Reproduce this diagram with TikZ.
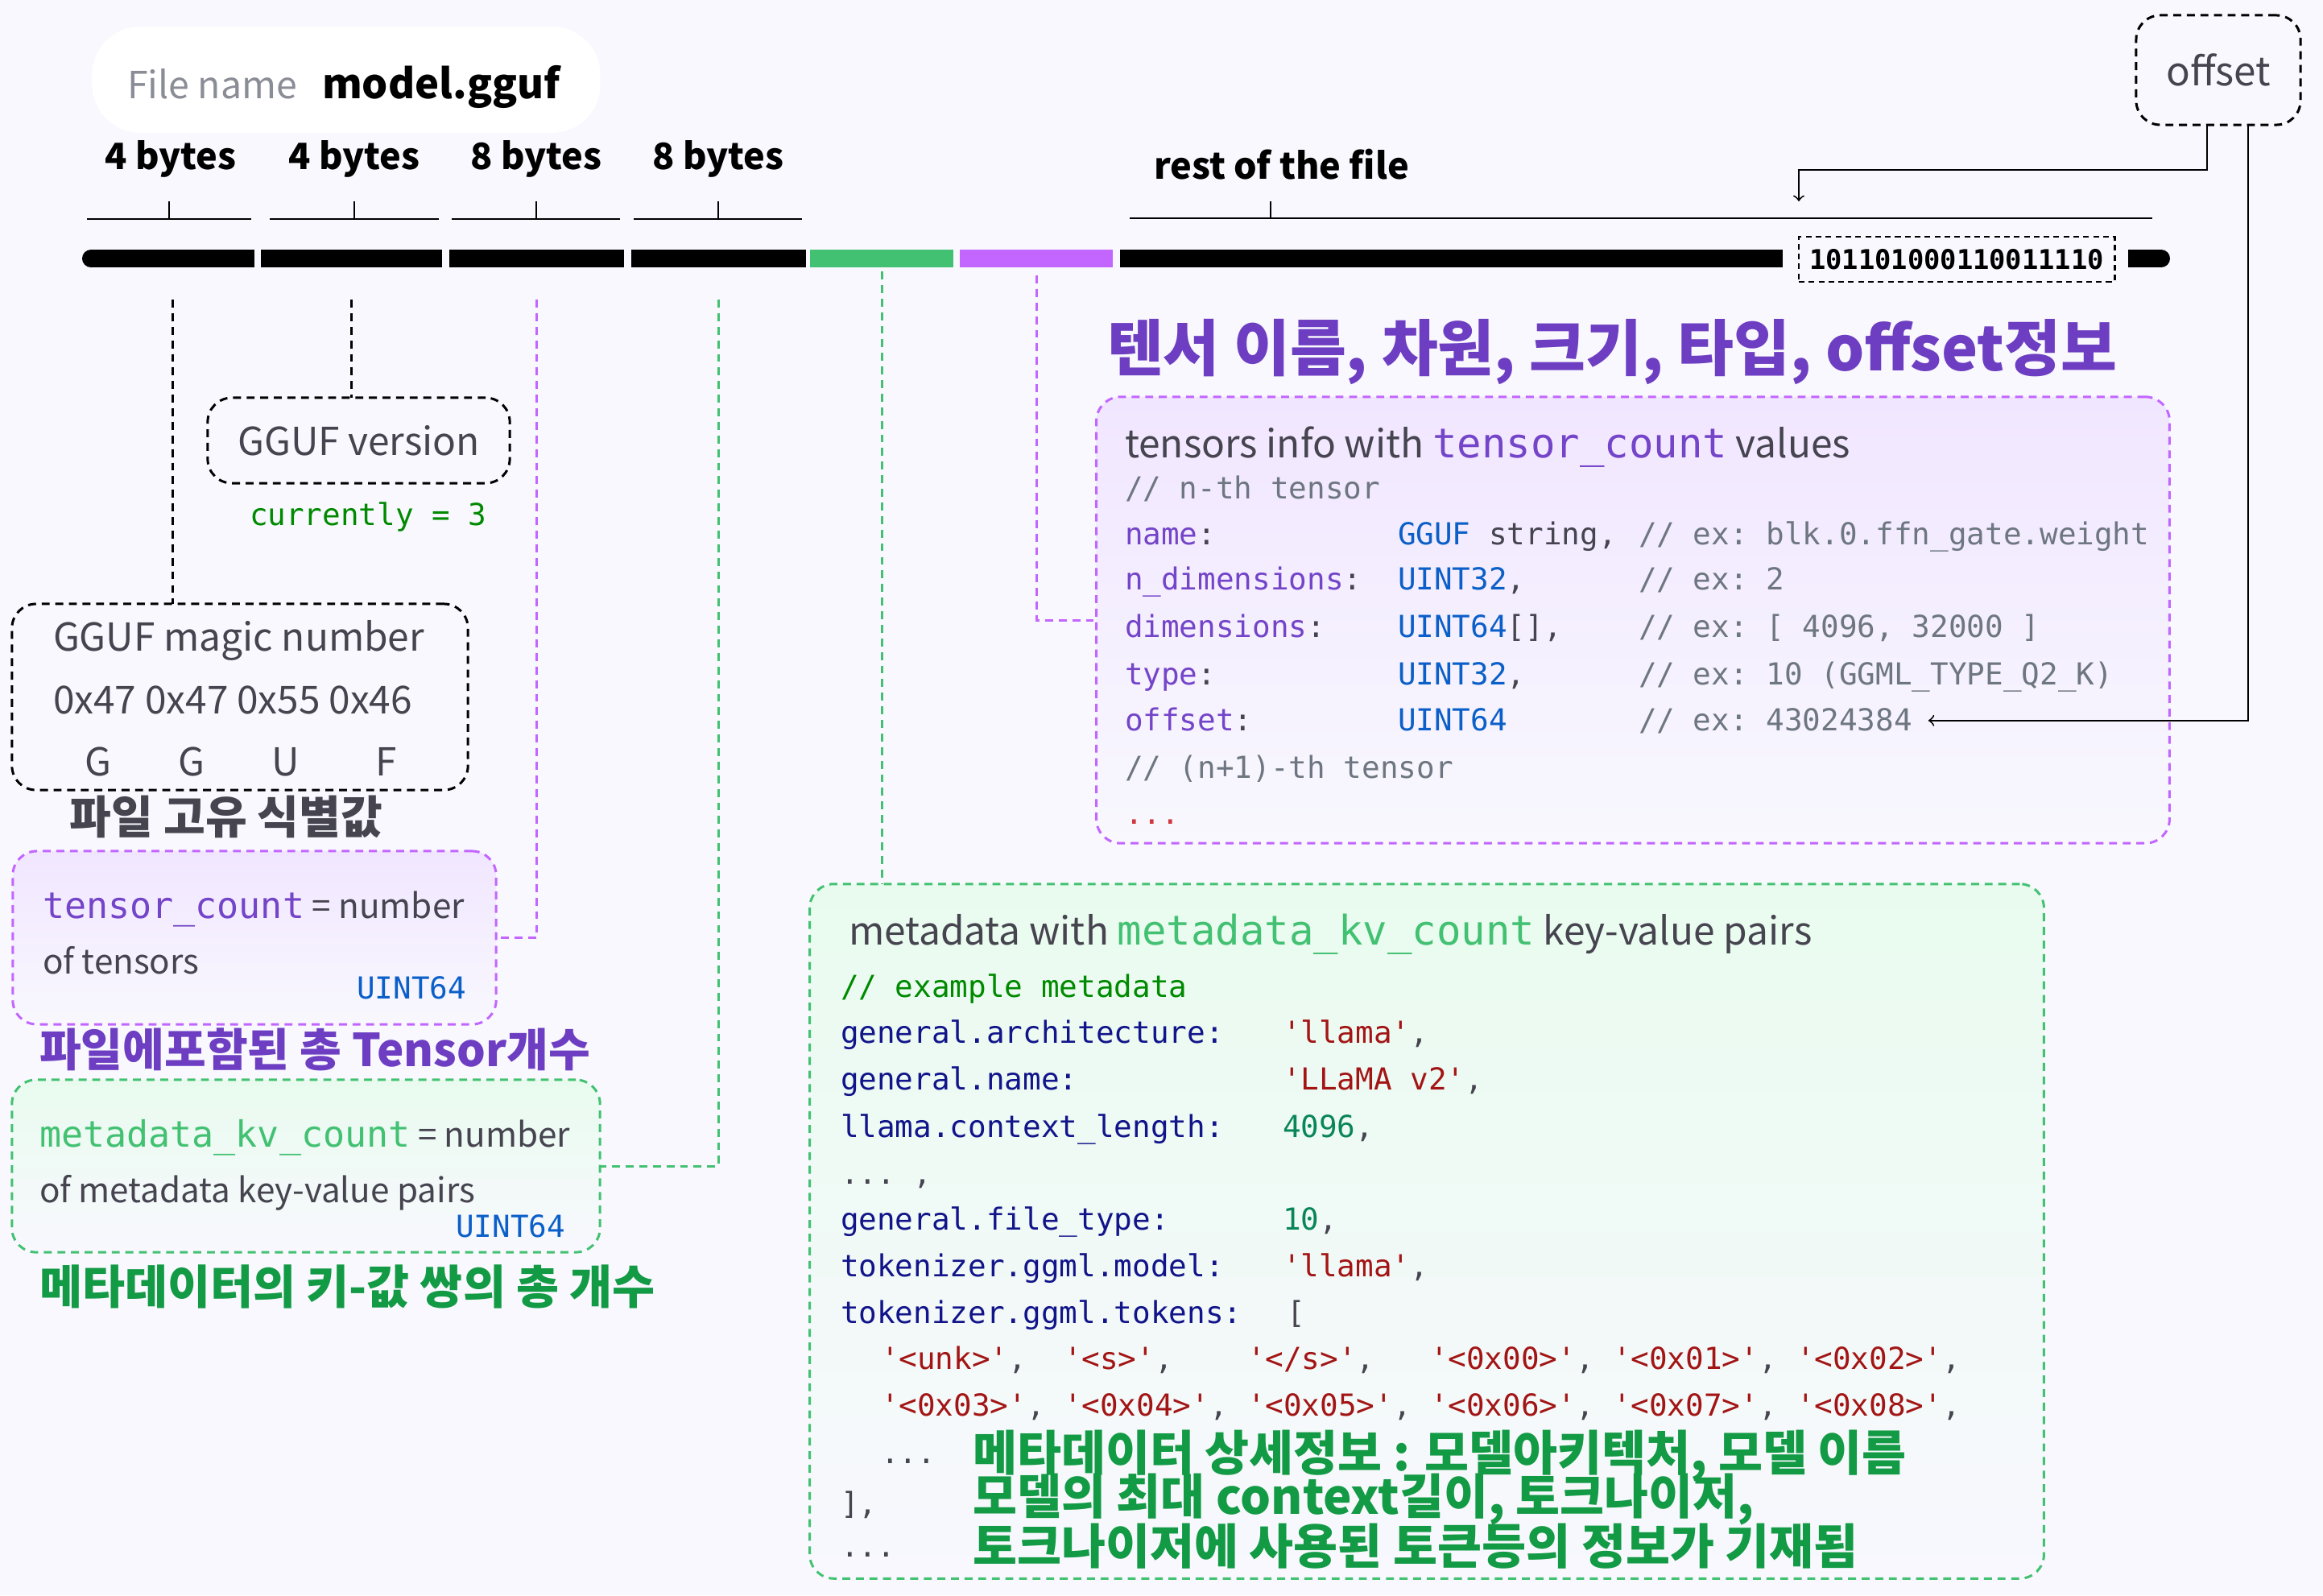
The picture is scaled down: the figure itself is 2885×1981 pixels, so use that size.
\documentclass[tikz,border=0pt]{standalone}
\usepackage{fontspec}
\setmainfont{Noto Sans CJK KR}
\setmonofont{DejaVu Sans Mono}
\usetikzlibrary{positioning,calc}

\definecolor{bgc}{HTML}{F8F8FE}
\definecolor{ink}{HTML}{45444F}
\definecolor{fnm}{HTML}{8A8D96}
\definecolor{pkey}{HTML}{7444C9}
\definecolor{purk}{HTML}{6E3EC2}
\definecolor{pline}{HTML}{C266FF}
\definecolor{pfill}{HTML}{F1E6FF}
\definecolor{grn}{HTML}{43C172}
\definecolor{grnk}{HTML}{139A45}
\definecolor{gfill}{HTML}{E9FBEF}
\definecolor{tblue}{HTML}{0B5FC8}
\definecolor{cmt}{HTML}{6E7781}
\definecolor{mkey}{HTML}{12158A}
\definecolor{strc}{HTML}{A31515}
\definecolor{numc}{HTML}{098658}
\definecolor{gcm}{HTML}{008A00}
\definecolor{dots}{HTML}{D1383D}

\begin{document}
\begin{tikzpicture}[x=0.01cm,y=-0.01cm]
\tikzstyle{every node}+=[inner sep=0pt, outer sep=0pt]
\tikzstyle{seg}=[fill=black, minimum height=0.22cm]
\tikzstyle{sans}=[font=\fontsize{13.6pt}{16pt}\selectfont, text=ink]
\tikzstyle{small}=[font=\fontsize{12pt}{14pt}\selectfont, text=ink]
\tikzstyle{bytel}=[font=\fontsize{12.8pt}{15pt}\selectfont\bfseries, text=black]
\tikzstyle{code}=[font=\ttfamily\fontsize{10.7pt}{13pt}\selectfont, anchor=base west]
\tikzstyle{kor}=[font=\fontsize{16pt}{19pt}\selectfont\bfseries, anchor=west]
\tikzstyle{bxk}=[draw=black, line width=0.85pt, dash pattern=on 2.8pt off 2pt, rounded corners=0.3cm]
\tikzstyle{bxp}=[draw=pline, line width=0.85pt, dash pattern=on 2.8pt off 2pt, rounded corners=0.3cm, top color=pfill, middle color=bgc, bottom color=bgc]
\tikzstyle{bxg}=[draw=grn, line width=0.85pt, dash pattern=on 2.8pt off 2pt, rounded corners=0.3cm, top color=gfill, middle color=bgc, bottom color=bgc]
\tikzstyle{kdash}=[draw=black, line width=0.85pt, dash pattern=on 2.8pt off 2pt]
\tikzstyle{pdash}=[draw=pline, line width=0.85pt, dash pattern=on 2.8pt off 2pt]
\tikzstyle{gdash}=[draw=grn, line width=0.85pt, dash pattern=on 2.8pt off 2pt]

\fill[bgc] (0,0) rectangle (2885,1981);

% file name
\node[fill=white, rounded corners=0.6cm, minimum width=6.31cm, minimum height=1.32cm] (fbox) at (430,99) {};
\node[anchor=base west, font=\fontsize{13.2pt}{16pt}\selectfont, text=fnm] (fnl) at (158,122) {File name};
\node[anchor=base west, font=\fontsize{14.4pt}{17pt}\selectfont\bfseries, text=black] (fnv) at (400,122) {model.gguf};

% the file as a bar
\node[seg, minimum width=2.03cm] (seg1) at (214.5,321) {};
\fill (113,321) circle (0.11cm);
\node[seg, minimum width=2.25cm] (seg2) at (436.5,321) {};
\node[seg, minimum width=2.17cm] (seg3) at (666.5,321) {};
\node[seg, minimum width=2.17cm] (seg4) at (892.5,321) {};
\node[seg, fill=grn, minimum width=1.78cm] (gseg) at (1095,321) {};
\node[seg, fill=pline, minimum width=1.90cm] (pseg) at (1287,321) {};
\node[seg, minimum width=8.23cm] (rseg) at (1802.5,321) {};
\node[draw=black, line width=0.8pt, dash pattern=on 2pt off 1.5pt, fill=bgc, minimum width=3.92cm, minimum height=0.56cm,
      font=\ttfamily\fontsize{9.6pt}{11pt}\selectfont\bfseries] (bin) at (2430,322) {101101000110011110};
\node[seg, minimum width=0.41cm] (eseg) at (2663.5,321) {};
\fill (2684,321) circle (0.11cm);

% byte sizes
\draw[line width=0.6pt] (108,272) -- (312,272) (210,272) -- (210,250);
\draw[line width=0.6pt] (335,272) -- (545,272) (440,272) -- (440,250);
\draw[line width=0.6pt] (561,272) -- (770,272) (666,272) -- (666,250);
\draw[line width=0.6pt] (787,272) -- (996,272) (892,272) -- (892,250);
\draw[line width=0.6pt] (1403,271) -- (2673,271) (1578,271) -- (1578,250);
\node[bytel, anchor=base] (b1) at (212,210) {4 bytes};
\node[bytel, anchor=base] (b2) at (440,210) {4 bytes};
\node[bytel, anchor=base] (b3) at (666,210) {8 bytes};
\node[bytel, anchor=base] (b4) at (892,210) {8 bytes};
\node[bytel, anchor=base west] (rest) at (1433,222) {rest of the file};

% offset
\node[bxk, sans, font=\fontsize{14pt}{17pt}\selectfont, minimum width=2.04cm, minimum height=1.36cm] (offset) at (2755,87) {offset};
\coordinate (bintip) at (2234,250);

% version and magic
\node[bxk, sans, minimum width=3.75cm, minimum height=1.06cm] (ver) at (445.5,547) {GGUF version};
\node[code, text=gcm] (cur) at (310,652) {currently = 3};
\node[bxk, minimum width=5.66cm, minimum height=2.31cm] (magic) at (298,865.5) {};
\node[sans, anchor=base west] (mg1) at (66,808) {GGUF magic number};
\node[sans, anchor=base west] (mg2) at (66,886) {0x47 0x47 0x55 0x46};
\node[sans, anchor=base] (mgG) at (122,963) {G};
\node[sans, anchor=base] (mgG2) at (238,963) {G};
\node[sans, anchor=base] (mgU) at (355,963) {U};
\node[sans, anchor=base] (mgF) at (480,963) {F};
\node[kor, text=ink] (mgk) at (87,1014) {파일 고유 식별값};

% tensor count
\node[bxp, minimum width=6.0cm, minimum height=2.15cm] (tcount) at (316,1164.5) {};
\node[small, anchor=base west] (tc1) at (53,1140) {\textcolor{pkey}{\fontsize{12.8pt}{15pt}\ttfamily tensor\_count} = number};
\node[small, anchor=base west] (tc2) at (53,1209) {of tensors};
\node[code, anchor=base east, text=tblue] (tc3) at (579,1240) {UINT64};
\node[kor, text=purk] (tck) at (49,1303) {파일에포함된 총 Tensor개수};

% kv count
\node[bxg, minimum width=7.30cm, minimum height=2.14cm] (kv) at (380,1448) {};
\node[small, anchor=base west] (kv1) at (49,1424) {\textcolor{grn}{\fontsize{12.8pt}{15pt}\ttfamily metadata\_kv\_count} = number};
\node[small, anchor=base west] (kv2) at (49,1493) {of metadata key-value pairs};
\node[code, anchor=base east, text=tblue] (kv3) at (702,1536) {UINT64};
\node[kor, text=grnk, font=\fontsize{16.4pt}{19pt}\selectfont\bfseries] (kvk) at (49,1598) {메타데이터의 키-값 쌍의 총 개수};

% tensors info
\node[kor, text=purk, font=\fontsize{21.6pt}{26pt}\selectfont\bfseries] (tik) at (1375,437) {텐서 이름, 차원, 크기, 타입, offset정보};
\node[bxp, minimum width=13.32cm, minimum height=5.54cm] (tinfo) at (2028,770) {};
\node[sans, anchor=base west] (tit) at (1397,568) {tensors info with \textcolor{pkey}{\fontsize{14.4pt}{17pt}\ttfamily tensor\_count} values};
\node[code, text=cmt] (tn) at (1397,619) {// n-th tensor};
\node[code, text=ink] (nmk) at (1397,676) {\textcolor{pkey}{name}:};
\node[code, text=ink] (nmt) at (1736,676) {\textcolor{tblue}{GGUF} string,};
\node[code, text=cmt] (nmc) at (2035,676) {// ex: blk.0.ffn\_gate.weight};
\node[code, text=ink] (ndk) at (1397,732) {\textcolor{pkey}{n\_dimensions}:};
\node[code, text=ink] (ndt) at (1736,732) {\textcolor{tblue}{UINT32},};
\node[code, text=cmt] (ndc) at (2035,732) {// ex: 2};
\node[code, text=ink] (dmk) at (1397,791) {\textcolor{pkey}{dimensions}:};
\node[code, text=ink] (dmt) at (1736,791) {\textcolor{tblue}{UINT64}[],};
\node[code, text=cmt] (dmc) at (2035,791) {// ex: [ 4096, 32000 ]};
\node[code, text=ink] (tyk) at (1397,850) {\textcolor{pkey}{type}:};
\node[code, text=ink] (tyt) at (1736,850) {\textcolor{tblue}{UINT32},};
\node[code, text=cmt] (tyc) at (2035,850) {// ex: 10 (GGML\_TYPE\_Q2\_K)};
\node[code, text=ink] (ofk) at (1397,907) {\textcolor{pkey}{offset}:};
\node[code, text=tblue] (oft) at (1736,907) {UINT64};
\node[code, text=cmt] (offv) at (2035,907) {// ex: 43024384};
\node[code, text=cmt] (tn2) at (1397,966) {// (n+1)-th tensor};
\node[code, text=dots] (tdots) at (1397,1023) {...};

% metadata
\node[bxg, minimum width=15.32cm, minimum height=8.62cm] (meta) at (1772,1529) {};
\node[sans, anchor=base west] (mt) at (1054,1173) {metadata with \textcolor{grn}{\fontsize{14.4pt}{17pt}\ttfamily metadata\_kv\_count} key-value pairs};
\node[code, text=gcm] (mc) at (1044,1238) {// example metadata};
\node[code, text=mkey] (m1k) at (1044,1295) {general.architecture:};
\node[code, text=ink] (m1v) at (1593,1295) {\textcolor{strc}{'llama'},};
\node[code, text=mkey] (m2k) at (1044,1353) {general.name:};
\node[code, text=ink] (m2v) at (1593,1353) {\textcolor{strc}{'LLaMA v2'},};
\node[code, text=mkey] (m3k) at (1044,1412) {llama.context\_length:};
\node[code, text=ink] (m3v) at (1593,1412) {\textcolor{numc}{4096},};
\node[code, text=ink] (m4k) at (1044,1470) {... ,};
\node[code, text=mkey] (m5k) at (1044,1527) {general.file\_type:};
\node[code, text=ink] (m5v) at (1593,1527) {\textcolor{numc}{10},};
\node[code, text=mkey] (m6k) at (1044,1585) {tokenizer.ggml.model:};
\node[code, text=ink] (m6v) at (1593,1585) {\textcolor{strc}{'llama'},};
\node[code, text=mkey] (m7k) at (1044,1643) {tokenizer.ggml.tokens:};
\node[code, text=ink] (m7v) at (1598,1643) {[};
\node[code, text=ink] (t1) at (1094,1700) {\textcolor{strc}{'<unk>'},};
\node[code, text=ink] (t2) at (1321,1700) {\textcolor{strc}{'<s>'},};
\node[code, text=ink] (t3) at (1549,1700) {\textcolor{strc}{'</s>'},};
\node[code, text=ink] (t4) at (1776,1700) {\textcolor{strc}{'<0x00>'},};
\node[code, text=ink] (t5) at (2003,1700) {\textcolor{strc}{'<0x01>'},};
\node[code, text=ink] (t6) at (2231,1700) {\textcolor{strc}{'<0x02>'},};
\node[code, text=ink] (t7) at (1094,1758) {\textcolor{strc}{'<0x03>'},};
\node[code, text=ink] (t8) at (1321,1758) {\textcolor{strc}{'<0x04>'},};
\node[code, text=ink] (t9) at (1549,1758) {\textcolor{strc}{'<0x05>'},};
\node[code, text=ink] (t10) at (1776,1758) {\textcolor{strc}{'<0x06>'},};
\node[code, text=ink] (t11) at (2003,1758) {\textcolor{strc}{'<0x07>'},};
\node[code, text=ink] (t12) at (2231,1758) {\textcolor{strc}{'<0x08>'},};
\node[code, text=ink] (tdt) at (1094,1817) {...};
\node[code, text=ink] (tcl) at (1044,1880) {],};
\node[code, text=ink] (mdt) at (1044,1933) {...};
\node[kor, text=grnk, font=\fontsize{17pt}{20pt}\selectfont\bfseries] (mk1) at (1208,1808) {메타데이터 상세정보 : 모델아키텍처, 모델 이름};
\node[kor, text=grnk, font=\fontsize{17pt}{20pt}\selectfont\bfseries] (mk2) at (1208,1862) {모델의 최대 context길이, 토크나이저,};
\node[kor, text=grnk, font=\fontsize{17pt}{20pt}\selectfont\bfseries] (mk3) at (1208,1920) {토크나이저에 사용된 토큰등의 정보가 기재됨};

% connectors
\draw[kdash, shorten <=0.4cm] (seg1.south) -- (seg1.south |- magic.north);
\draw[kdash, shorten <=0.4cm] (seg2.south) -- (seg2.south |- ver.north);
\draw[pdash, shorten <=0.4cm] (seg3.south) |- (tcount.east);
\draw[gdash, shorten <=0.4cm] (seg4.south) |- (kv.east);
\draw[gdash, shorten <=0.05cm] (gseg.south) -- (gseg.south |- meta.north);
\draw[pdash, shorten <=0.1cm] (pseg.south) |- (tinfo.west);
\draw[line width=0.55pt, ->] ([xshift=-0.14cm]offset.south) -- ++(0,56) -| (bintip);
\draw[line width=0.55pt, ->, shorten >=0.2cm] ([xshift=0.37cm]offset.south) |- (offv.east);
\end{tikzpicture}
\end{document}
